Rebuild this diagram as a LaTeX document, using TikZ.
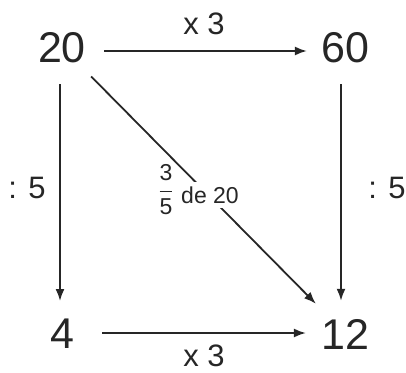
\documentclass[tikz,border=0pt]{standalone}
\usepackage{amsmath}
\usepackage{fontspec}
\setmainfont{Liberation Sans}
\usetikzlibrary{arrows.meta}
\begin{document}
\begin{tikzpicture}[x=1pt,y=-1pt,
  num/.style={inner sep=0pt,font=\fontsize{43}{43}\selectfont,text=black!85},
  lbl/.style={inner sep=0pt,font=\fontsize{31}{31}\selectfont,text=black!85},
  small/.style={inner sep=1pt,fill=white,font=\fontsize{23}{23}\selectfont,text=black!85},
  arr/.style={line width=1.8pt,draw=black!85,-{Latex[length=12pt,width=9pt]}}]
\useasboundingbox (0,0) rectangle (406,372);
\node[num] (n20) at (62,48) {20};
\node[num] (n60) at (345,48) {60};
\node[num] (n4) at (62,334) {4};
\node[num] (n12) at (345,334) {12};
\draw[arr] ([xshift=18pt,yshift=-3pt]n20.east) -- ([xshift=-14pt,yshift=-3pt]n60.west);
\draw[arr] ([xshift=28pt,yshift=1pt]n4.east) -- ([xshift=-15pt,yshift=1pt]n12.west);
\draw[arr] ([xshift=-2pt,yshift=-21pt]n20.south) -- ([xshift=-2pt,yshift=18pt]n4.north);
\draw[arr] ([xshift=-4pt,yshift=-21pt]n60.south) -- ([xshift=-4pt,yshift=18pt]n12.north);
\draw[arr] ([xshift=5pt,yshift=-13pt]n20.south east) -- ([xshift=-5pt,yshift=15pt]n12.north west);
\node[lbl] (t1) at (204,24) {x 3};
\node[lbl] (t2) at (204,356) {x 3};
\node[lbl] (t3) at (27,188) {: 5};
\node[lbl] (t4) at (387,188) {: 5};
\node[small,inner sep=0pt] (fr) at (166,190) {$\genfrac{}{}{1.6pt}{0}{\text{3}}{\text{5}}$};
\node[small,inner xsep=1pt,inner ysep=5pt] (de) at (210,195) {de 20};
\end{tikzpicture}
\end{document}
